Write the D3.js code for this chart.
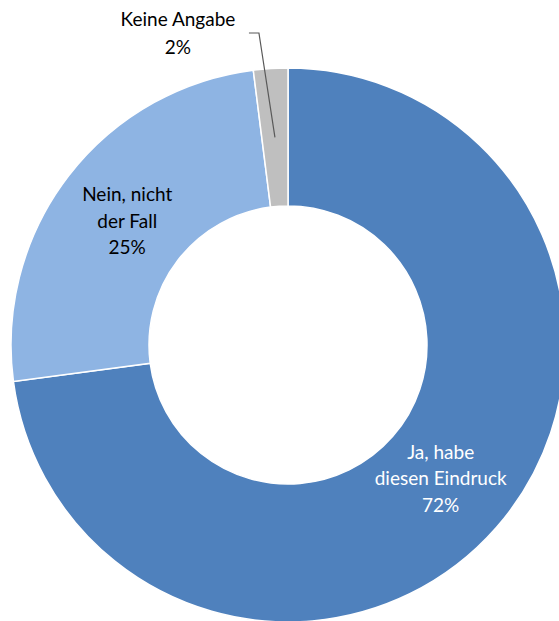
<!DOCTYPE html>
<html>
<head>
<meta charset="utf-8">
<script src="https://cdn.jsdelivr.net/npm/d3@7"></script>
<style>
  body { margin: 0; background: #fff; }
  text { font-family: Lato, "Noto Sans", sans-serif; }
</style>
</head>
<body>
<svg id="donut"></svg>
<script>
// Data
var categories = ["Ja, habe diesen Eindruck", "Nein, nicht der Fall", "Keine Angabe"];
var values = [72.9, 25.1, 2.0];
var percentLabels = ["72%", "25%", "2%"];
var labelLines = [["Ja, habe", "diesen Eindruck"], ["Nein, nicht", "der Fall"], ["Keine Angabe"]];
var colors = ["#4f81bd", "#8eb4e3", "#bfbfbf"];

var dimensions = {
    width: 559,
    height: 621,
    cx: 288,
    cy: 345,
    outer: 277,
    inner: 139
};

var svg = d3.select("#donut")
    .attr("width", dimensions.width)
    .attr("height", dimensions.height);

var g = svg.append("g")
    .attr("transform", `translate(${dimensions.cx}, ${dimensions.cy})`);

var data = categories.map((c, i) => ({
    category: c,
    value: values[i],
    percent: percentLabels[i],
    lines: labelLines[i],
    color: colors[i]
}));

var pie = d3.pie().value(d => d.value).sort(null);
var arc = d3.arc().innerRadius(dimensions.inner).outerRadius(dimensions.outer);
// labels sit a little inside the middle of the ring
var labelArc = d3.arc().innerRadius(203).outerRadius(203);
var slices = pie(data);

g.selectAll("path")
    .data(slices)
    .enter()
    .append("path")
    .attr("d", arc)
    .attr("fill", d => d.data.color)
    .attr("stroke", "white")
    .attr("stroke-width", 1.5);

var lineHeight = 26.5;
var fontSize = 19;

// labels inside the two big slices
slices.slice(0, 2).forEach(function(d, i) {
    var c = labelArc.centroid(d);
    var lines = d.data.lines.concat([d.data.percent]);
    var t = g.append("text")
        .attr("text-anchor", "middle")
        .attr("font-size", fontSize)
        .attr("fill", i === 0 ? "white" : "black");
    lines.forEach(function(l, j) {
        t.append("tspan")
            .attr("x", c[0])
            .attr("y", c[1] + (j - (lines.length - 1) / 2) * lineHeight + fontSize * 0.35)
            .text(l);
    });
});

// small slice: label outside with leader line
var small = slices[2];
var sc = arc.centroid(small);
var elbow = [sc[0] - 16, -dimensions.cy + 33];
var end = [elbow[0] - 10, elbow[1]];

g.append("polyline")
    .attr("points", [sc, elbow, end].map(p => p.join(",")).join(" "))
    .attr("fill", "none")
    .attr("stroke", "#595959")
    .attr("stroke-width", 1.2);

var st = g.append("text")
    .attr("text-anchor", "middle")
    .attr("font-size", fontSize)
    .attr("fill", "black");
var smallLines = small.data.lines.concat([small.data.percent]);
smallLines.forEach(function(l, j) {
    st.append("tspan")
        .attr("x", end[0] - 71)
        .attr("y", end[1] + (j - (smallLines.length - 1) / 2) * 28 + fontSize * 0.35)
        .text(l);
});
</script>
</body>
</html>
